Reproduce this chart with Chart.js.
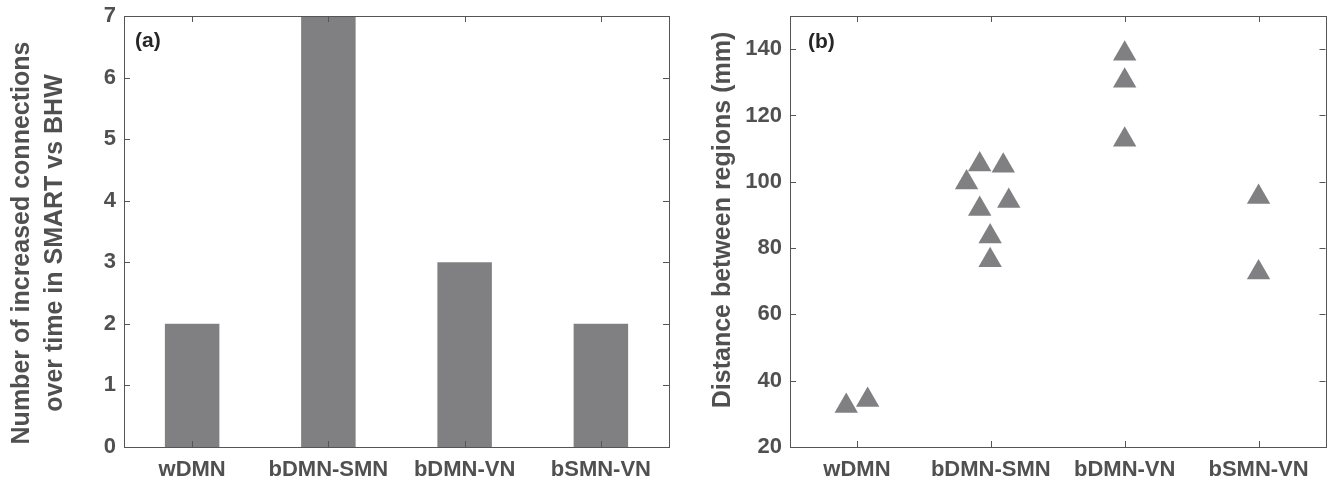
<!DOCTYPE html>
<html>
<head>
<meta charset="utf-8">
<script src="https://cdn.jsdelivr.net/npm/chart.js@4.4.1/dist/chart.umd.min.js"></script>
<style>
  html, body { margin: 0; padding: 0; background: #ffffff; }
  #wrap { position: relative; width: 1339px; height: 481px; }
  #c1 { position: absolute; left: 0; top: 0; }
  #c2 { position: absolute; left: 690px; top: 0; }
</style>
</head>
<body>
<div id="wrap">
  <div id="c1" style="width:690px;height:481px;"><canvas id="chartA"></canvas></div>
  <div id="c2" style="width:649px;height:481px;"><canvas id="chartB"></canvas></div>
</div>
<script>
// ---- data ----
const categories = ['wDMN', 'bDMN-SMN', 'bDMN-VN', 'bSMN-VN'];
const connectionCounts = [2, 7, 3, 2];
const countTicks = [0, 1, 2, 3, 4, 5, 6, 7];

// distances (mm) per connection, with category index and horizontal jitter
const distanceCategory = [0, 0, 1, 1, 1, 1, 1, 1, 1, 2, 2, 2, 3, 3];
const distanceJitter   = [-0.08, 0.08, -0.083, 0.093, -0.181, 0.134, -0.083, -0.005, -0.005, 0, 0, 0, 0, 0];
const distanceValues   = [32.4, 34.2, 105.2, 104.8, 99.8, 94.2, 91.8, 83.5, 76.3, 138.6, 130.5, 112.7, 95.4, 72.6];
const distanceTicks = [20, 40, 60, 80, 100, 120, 140];

const panelLabels = ['(a)', '(b)'];
const countTitle = ['Number of increased connections', 'over time in SMART vs BHW'];
const distanceTitle = ['Distance between regions (mm)'];

// ---- styles ----
const FONT = 'Liberation Sans, Arial, sans-serif';
const MARK = '#808083';
const TEXT = '#505050';
const AXIS = '#555555';

const boxPlugin = {
  id: 'matlabBox',
  afterDraw(chart) {
    const { ctx, chartArea: a, scales } = chart;
    const o = chart.options.plugins.matlabBox;
    ctx.save();
    ctx.strokeStyle = AXIS;
    ctx.lineWidth = 1;
    ctx.strokeRect(Math.round(a.left) + 0.5, Math.round(a.top) + 0.5,
                   Math.round(a.right - a.left), Math.round(a.bottom - a.top));
    const tl = 6;
    ctx.beginPath();
    scales.y.ticks.forEach(t => {
      const y = Math.round(scales.y.getPixelForValue(t.value)) + 0.5;
      ctx.moveTo(a.left, y); ctx.lineTo(a.left + tl, y);
      ctx.moveTo(a.right, y); ctx.lineTo(a.right - tl, y);
    });
    scales.x.ticks.forEach((t, i) => {
      const x = Math.round(scales.x.getPixelForTick(i)) + 0.5;
      ctx.moveTo(x, a.bottom); ctx.lineTo(x, a.bottom - tl);
      ctx.moveTo(x, a.top); ctx.lineTo(x, a.top + tl);
    });
    ctx.stroke();
    // panel label
    ctx.fillStyle = '#262626';
    ctx.font = 'bold 21px ' + FONT;
    ctx.textBaseline = 'middle';
    ctx.textAlign = 'left';
    ctx.fillText(o.label, a.left + o.dx, a.top + o.dy);
    // rotated y-axis title
    ctx.fillStyle = TEXT;
    ctx.font = 'bold 25px ' + FONT;
    ctx.textAlign = 'center';
    ctx.translate(o.titleX, o.titleY);
    ctx.rotate(-Math.PI / 2);
    o.title.forEach((line, i) => ctx.fillText(line, 0, i * o.titleGap));
    ctx.restore();
  }
};

function tickFont() { return { family: FONT, size: 22, weight: 'bold' }; }
function noPad(s) { s.paddingTop = 0; s.paddingBottom = 0; s.paddingLeft = 0; s.paddingRight = 0; }

new Chart(document.getElementById('chartA'), {
  type: 'bar',
  data: {
    labels: categories,
    datasets: [{
      data: connectionCounts,
      backgroundColor: MARK,
      borderWidth: 0,
      barPercentage: 0.4,
      categoryPercentage: 1.0
    }]
  },
  options: {
    responsive: true,
    maintainAspectRatio: false,
    animation: false,
    layout: { padding: { top: 16, right: 21, bottom: 0, left: 0 } },
    plugins: {
      legend: { display: false },
      tooltip: { enabled: false },
      matlabBox: { label: panelLabels[0], dx: 11, dy: 25,
                   title: countTitle, titleX: 22, titleY: 243, titleGap: 33 }
    },
    scales: {
      x: {
        grid: { display: false },
        border: { display: false },
        ticks: { color: TEXT, font: tickFont(), padding: 2, maxRotation: 0 },
        afterFit(s) { s.height = 34; noPad(s); }
      },
      y: {
        min: 0, max: 7,
        grid: { display: false, drawTicks: false },
        border: { display: false },
        afterBuildTicks(s) { s.ticks = countTicks.map(v => ({ value: v })); },
        ticks: { color: TEXT, font: tickFont(), padding: 8 },
        afterFit(s) { s.width = 124; noPad(s); }
      }
    }
  },
  plugins: [boxPlugin]
});

const scatterPoints = distanceValues.map((v, i) => ({
  x: distanceCategory[i] + 1 + distanceJitter[i],
  y: v
}));

new Chart(document.getElementById('chartB'), {
  type: 'scatter',
  data: {
    datasets: [{
      data: scatterPoints,
      pointStyle: 'triangle',
      pointRadius: 13.5,
      pointHoverRadius: 13.5,
      backgroundColor: MARK,
      borderColor: MARK,
      borderWidth: 0
    }]
  },
  options: {
    responsive: true,
    maintainAspectRatio: false,
    animation: false,
    layout: { padding: { top: 16, right: 4, bottom: 0, left: 0 } },
    plugins: {
      legend: { display: false },
      tooltip: { enabled: false },
      matlabBox: { label: panelLabels[1], dx: 18, dy: 26,
                   title: distanceTitle, titleX: 33, titleY: 220, titleGap: 33 }
    },
    scales: {
      x: {
        type: 'linear',
        min: 0.5, max: categories.length + 0.5,
        grid: { display: false },
        border: { display: false },
        afterBuildTicks(s) { s.ticks = categories.map((c, i) => ({ value: i + 1 })); },
        ticks: {
          color: TEXT, font: tickFont(), padding: 2, maxRotation: 0, autoSkip: false,
          callback: (v) => categories[Math.round(v) - 1]
        },
        afterFit(s) { s.height = 34; noPad(s); }
      },
      y: {
        min: 20, max: 150,
        grid: { display: false, drawTicks: false },
        border: { display: false },
        afterBuildTicks(s) { s.ticks = distanceTicks.map(v => ({ value: v })); },
        ticks: { color: TEXT, font: tickFont(), padding: 8 },
        afterFit(s) { s.width = 100; noPad(s); }
      }
    }
  },
  plugins: [boxPlugin]
});
</script>
</body>
</html>
